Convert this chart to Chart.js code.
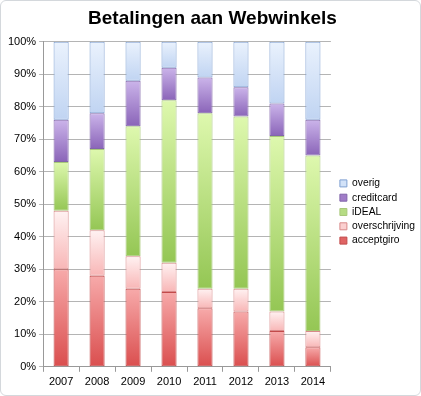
<!DOCTYPE html>
<html>
<head>
<meta charset="utf-8">
<script src="https://cdn.jsdelivr.net/npm/chart.js@4"></script>
<style>
  html, body { margin: 0; padding: 0; background: #fff; }
  #wrap { width: 419px; height: 394px; border: 1px solid #d4d8dc; border-radius: 6px; overflow: hidden; }
</style>
</head>
<body>
<div id="wrap"><canvas id="myChart" width="419" height="394"></canvas></div>
<script>
// ------------------------- data ----------------------
const years = ["2007", "2008", "2009", "2010", "2011", "2012", "2013", "2014"];
const acceptgiro = [30, 28, 24, 23, 18, 17, 11, 6];
const overschrijving = [18, 14, 10, 9, 6, 7, 6, 5];
const ideal = [15, 25, 40, 50, 54, 53, 54, 54];
const creditcard = [13, 11, 14, 10, 11, 9, 10, 11];
const overig = [24, 22, 12, 8, 11, 14, 19, 24];
const yTicks = [0, 10, 20, 30, 40, 50, 60, 70, 80, 90, 100];

const series = [acceptgiro, overschrijving, ideal, creditcard, overig];
const names = ["acceptgiro", "overschrijving", "iDEAL", "creditcard", "overig"];
// [top colour, bottom colour, border, legend]
const colors = [
  ["#f7aaaa", "#da4e4e", "#c24a4a", "#e06464"],
  ["#fff2f2", "#f8b6b6", "#d88a8a", "#fbd0d0"],
  ["#def8ae", "#94c654", "#a8c87a", "#b6dc84"],
  ["#cbb4ea", "#8a64b8", "#8266aa", "#a07cc8"],
  ["#eaf2fd", "#c0d4f2", "#7fa0d2", "#d2e2f8"]
];

// vertical gradient for each stacked piece
function pieceFill(ctx) {
  const chart = ctx.chart;
  const ds = ctx.datasetIndex, i = ctx.dataIndex;
  const c = colors[ds];
  if (!chart.chartArea || ctx.type !== 'data') return c[3];
  let base = 0;
  for (let k = 0; k < ds; k++) base += series[k][i];
  const y = chart.scales.y;
  const top = y.getPixelForValue(base + series[ds][i]);
  const bottom = y.getPixelForValue(base);
  if (!isFinite(top) || !isFinite(bottom) || top === bottom) return c[3];
  const g = chart.ctx.createLinearGradient(0, top, 0, bottom);
  g.addColorStop(0, c[0]);
  g.addColorStop(1, c[1]);
  return g;
}

const datasets = series.map((vals, k) => ({
  label: names[k],
  data: vals,
  backgroundColor: pieceFill,
  borderColor: colors[k][2],
  borderWidth: 1,
  borderSkipped: false,
  barPercentage: 0.42,
  categoryPercentage: 1.0
}));

// nudge the legend down and right a bit, like the original
const legendShift = {
  id: 'legendShift',
  afterLayout(chart) {
    const lg = chart.legend;
    if (!lg) return;
    lg.top += 12; lg.bottom += 12;
    lg.left += 5; lg.right += 5;
  }
};

Chart.defaults.font.family = "'Liberation Sans', Arial, sans-serif";
Chart.defaults.color = "#000";

new Chart("myChart", {
  type: "bar",
  data: { labels: years, datasets: datasets },
  plugins: [legendShift],
  options: {
    responsive: false,
    animation: false,
    layout: { padding: { top: 6, right: 0, left: 4, bottom: 2 } },
    plugins: {
      title: {
        display: true,
        text: "Betalingen aan Webwinkels",
        font: { size: 19, weight: "bold" },
        padding: { top: 0, bottom: 12 }
      },
      legend: {
        position: "right",
        reverse: true,
        labels: {
          boxWidth: 7,
          boxHeight: 7,
          padding: 4,
          font: { size: 10.3 },
          generateLabels: (chart) => {
            const items = Chart.defaults.plugins.legend.labels.generateLabels(chart);
            items.forEach(it => {
              it.fillStyle = colors[it.datasetIndex][3];
              it.strokeStyle = colors[it.datasetIndex][2];
              it.lineWidth = 1;
            });
            return items;
          }
        }
      },
      tooltip: { enabled: false }
    },
    scales: {
      x: {
        stacked: true,
        grid: { display: true, drawOnChartArea: false, offset: true, tickLength: 5, color: "#999" },
        border: { color: "#999" },
        ticks: { font: { size: 11 }, padding: 4 }
      },
      y: {
        stacked: true,
        min: 0,
        max: 100,
        afterBuildTicks: (axis) => { axis.ticks = yTicks.map(v => ({ value: v })); },
        grid: { color: "#b4b4b4", tickLength: 4 },
        border: { color: "#999" },
        ticks: { font: { size: 11 }, padding: 3, callback: v => v + "%" }
      }
    }
  }
});
</script>
</body>
</html>
